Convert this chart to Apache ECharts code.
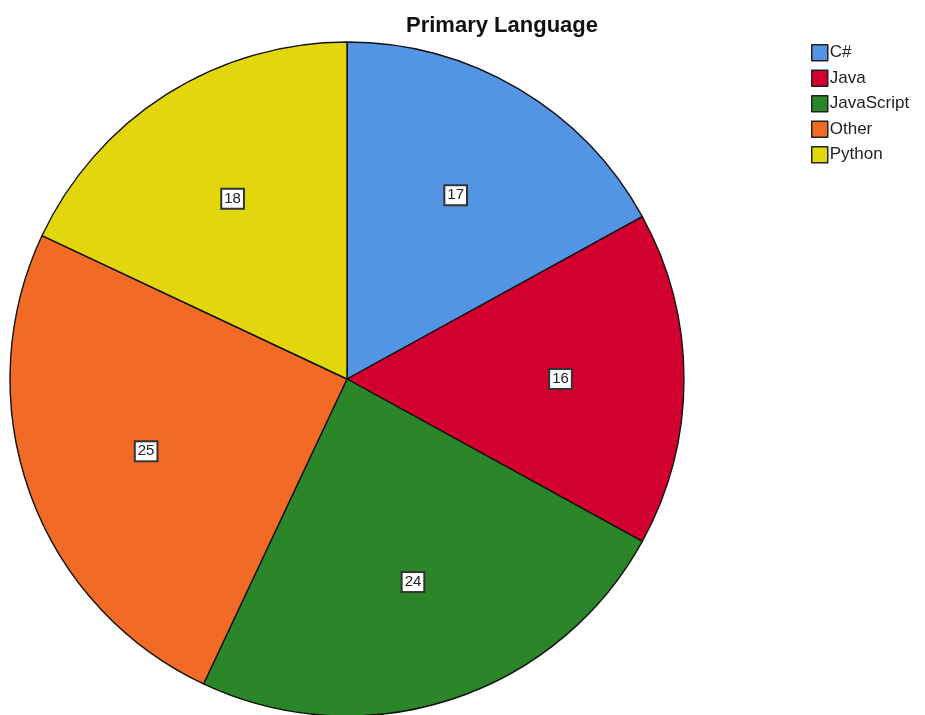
<!DOCTYPE html>
<html>
<head>
<meta charset="utf-8">
<script src="https://cdn.jsdelivr.net/npm/echarts@6/dist/echarts.min.js"></script>
<style>
  html, body { margin: 0; padding: 0; background: #fff; }
  #chart { width: 925px; height: 715px; }
</style>
</head>
<body>
<div id="chart"></div>
<script>
// Primary language counts
const categories = ['C#', 'Java', 'JavaScript', 'Other', 'Python'];
const counts = [17, 16, 24, 25, 18];
const colors = ['#5395E3', '#D2002E', '#2B8629', '#F26B26', '#E2D70D'];

const data = categories.map((name, i) => ({
  name: name,
  value: counts[i],
  itemStyle: { color: colors[i] }
}));

const center = [347, 379];

const chart = echarts.init(document.getElementById('chart'));
chart.setOption({
  animation: false,
  title: {
    text: 'Primary Language',
    left: 497,
    textAlign: 'center',
    top: 10,
    textStyle: {
      fontFamily: 'Liberation Sans, Arial, sans-serif',
      fontSize: 22,
      fontWeight: 'bold',
      color: '#111'
    }
  },
  legend: {
    orient: 'vertical',
    left: 806,
    top: 39,
    itemWidth: 16,
    itemHeight: 16,
    itemGap: 8,
    icon: 'rect',
    data: categories,
    itemStyle: { borderColor: '#222', borderWidth: 1.5 },
    textStyle: {
      fontFamily: 'Liberation Sans, Arial, sans-serif',
      fontSize: 17,
      color: '#222',
      padding: [0, 0, 0, -3]
    }
  },
  series: [
    {
      // filled slices
      type: 'pie',
      center: center,
      radius: [0, 337],
      startAngle: 90,
      clockwise: true,
      data: data,
      label: { show: false },
      labelLine: { show: false },
      itemStyle: { borderColor: '#111', borderWidth: 1.4 },
      emphasis: { disabled: true }
    },
    {
      // value labels placed at ~62% of the radius
      type: 'pie',
      center: center,
      radius: [84, 337],
      startAngle: 90,
      clockwise: true,
      silent: true,
      legendHoverLink: false,
      data: categories.map((name, i) => ({
        name: name,
        value: counts[i],
        itemStyle: { color: 'rgba(0,0,0,0)' }
      })),
      itemStyle: { borderWidth: 0 },
      label: {
        show: true,
        position: 'inside',
        formatter: '{c}',
        fontFamily: 'Liberation Sans, Arial, sans-serif',
        fontSize: 15,
        color: '#222',
        backgroundColor: '#fff',
        borderColor: '#333',
        borderWidth: 2,
        padding: [2, 2, 1, 2]
      },
      labelLine: { show: false },
      emphasis: { disabled: true }
    }
  ]
});
</script>
</body>
</html>
